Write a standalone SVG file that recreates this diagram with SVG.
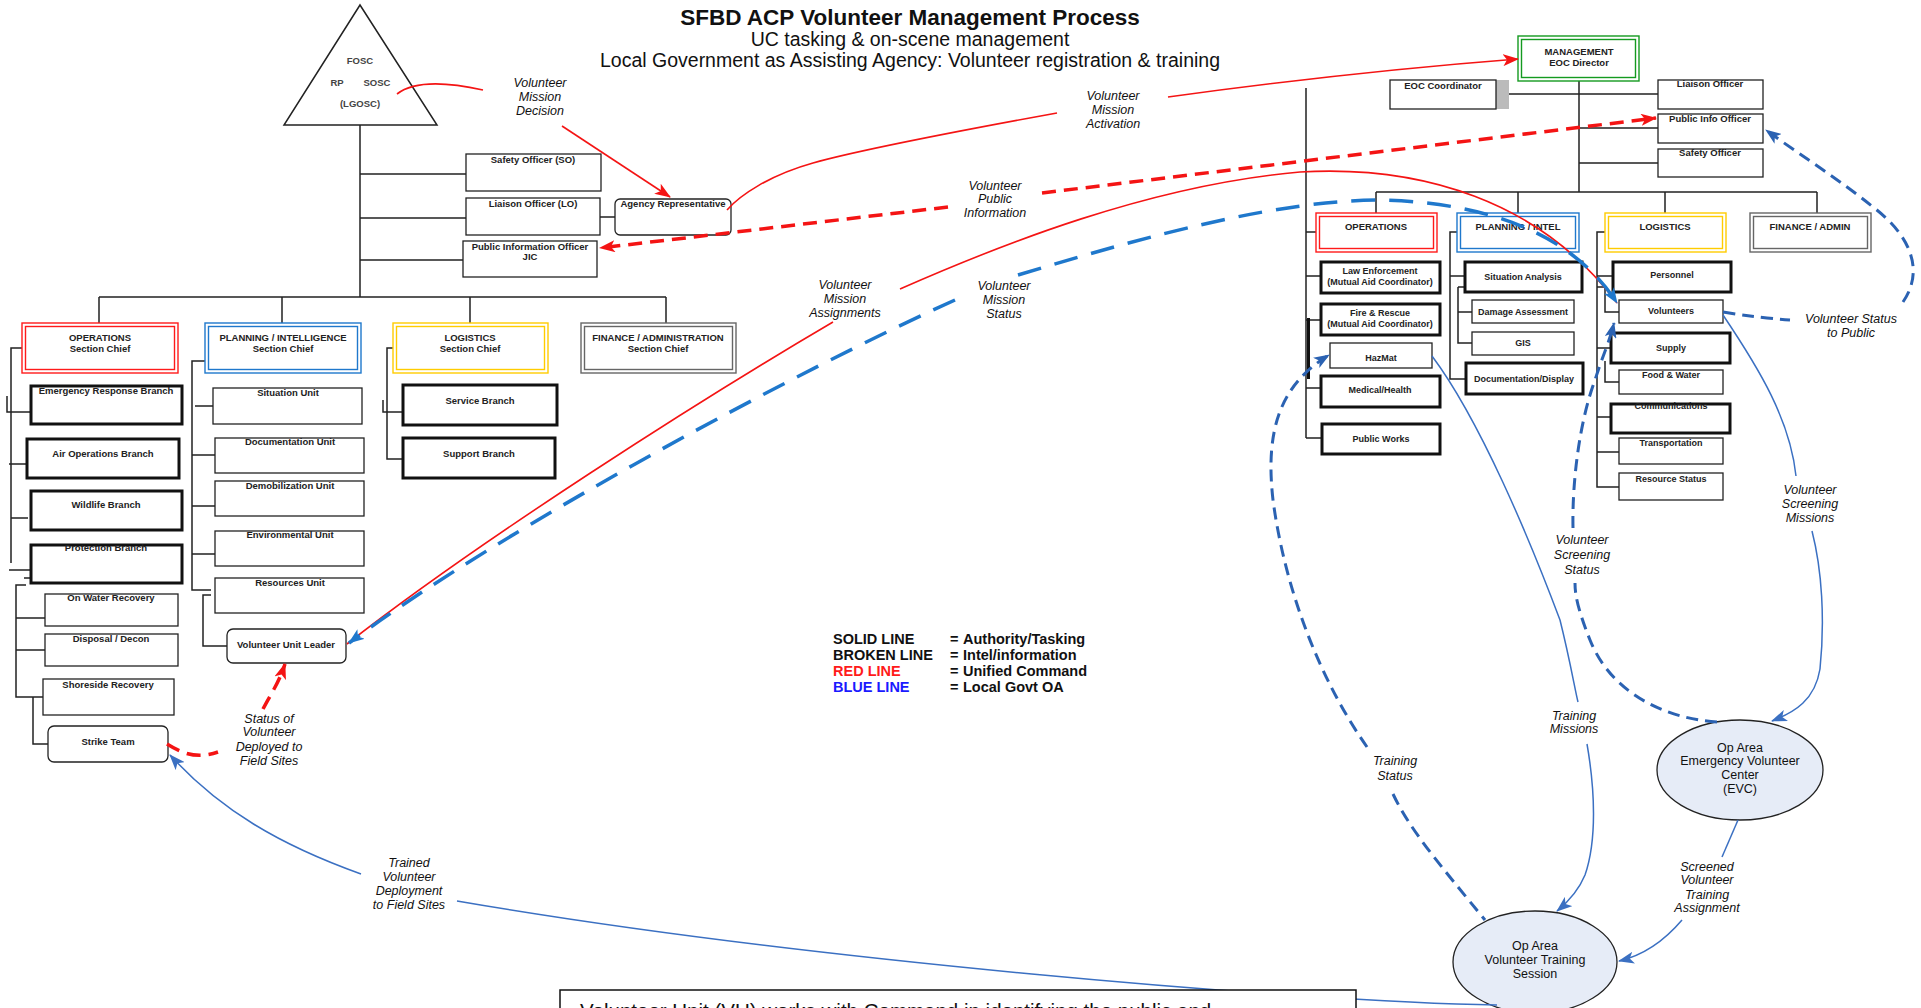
<svg xmlns="http://www.w3.org/2000/svg" width="1921" height="1008" viewBox="0 0 1921 1008">
<defs>
<style>
.t{font-family:"Liberation Sans",Arial,sans-serif;font-weight:bold;font-size:9.5px;fill:#222;text-anchor:middle}
.ts{font-family:"Liberation Sans",Arial,sans-serif;font-weight:bold;font-size:9px;fill:#222;text-anchor:middle}
.tri{font-family:"Liberation Sans",Arial,sans-serif;font-weight:bold;font-size:9.5px;fill:#444;text-anchor:middle}
.lbl{font-family:"Liberation Sans",Arial,sans-serif;font-style:italic;font-size:12.5px;fill:#111;text-anchor:middle}
.el{font-family:"Liberation Sans",Arial,sans-serif;font-size:12.5px;fill:#111;text-anchor:middle}
.leg{font-family:"Liberation Sans",Arial,sans-serif;font-weight:bold;font-size:14.5px;fill:#111}
.box{fill:#fff;stroke:#222;stroke-width:1.3}
.thick{fill:#fff;stroke:#111;stroke-width:3}
.dr{fill:#fff;stroke:#ff1a1a;stroke-width:1.4}
.db{fill:#fff;stroke:#1f78cc;stroke-width:1.4}
.dy{fill:#fff;stroke:#ffcc00;stroke-width:1.4}
.dg{fill:#fff;stroke:#666;stroke-width:1.4}
.dgr{fill:#fff;stroke:#149a20;stroke-width:1.4}
.in{fill:none}
.org{fill:none;stroke:#222;stroke-width:1.5}
.red{fill:none;stroke:#f41414;stroke-width:1.6}
.redd{fill:none;stroke:#f41414;stroke-width:3.5;stroke-dasharray:14 8}
.bd1{fill:none;stroke:#1f78cc;stroke-width:3.5;stroke-dasharray:24 14}
.bd2{fill:none;stroke:#2b62b2;stroke-width:3;stroke-dasharray:12 7}
.bs{fill:none;stroke:#3b70c2;stroke-width:1.5}
.ell{fill:#e6ecf7;stroke:#222;stroke-width:1.3}
</style>
<marker id="mR" viewBox="0 0 16 12" refX="15" refY="6" markerWidth="16" markerHeight="12" orient="auto-start-reverse" markerUnits="userSpaceOnUse"><path d="M0,0 L16,6 L0,12 L4,6 z" fill="#f41414"/></marker>
<marker id="mB1" viewBox="0 0 16 12" refX="15" refY="6" markerWidth="16" markerHeight="12" orient="auto-start-reverse" markerUnits="userSpaceOnUse"><path d="M0,0 L16,6 L0,12 L4,6 z" fill="#1f78cc"/></marker>
<marker id="mB2" viewBox="0 0 16 12" refX="15" refY="6" markerWidth="16" markerHeight="12" orient="auto-start-reverse" markerUnits="userSpaceOnUse"><path d="M0,0 L16,6 L0,12 L4,6 z" fill="#2b62b2"/></marker>
<marker id="mB3" viewBox="0 0 16 12" refX="15" refY="6" markerWidth="16" markerHeight="12" orient="auto-start-reverse" markerUnits="userSpaceOnUse"><path d="M0,0 L16,6 L0,12 L4,6 z" fill="#3b70c2"/></marker>
</defs>
<rect x="0" y="0" width="1921" height="1008" fill="#fff"/>

<g id="title">
<text x="910" y="25" style="font-family:'Liberation Sans',Arial,sans-serif;font-weight:bold;font-size:22.5px;fill:#111;text-anchor:middle">SFBD ACP Volunteer Management Process</text>
<text x="910" y="46" style="font-family:'Liberation Sans',Arial,sans-serif;font-size:19.5px;fill:#111;text-anchor:middle">UC tasking &amp; on-scene management</text>
<text x="910" y="67" style="font-family:'Liberation Sans',Arial,sans-serif;font-size:19.5px;fill:#111;text-anchor:middle">Local Government as Assisting Agency: Volunteer registration &amp; training</text>
</g>

<g id="org-lines">
<path class="org" d="M360,125 V297 M360,174 H466 M360,218 H466 M360,260 H463 M99,297 H666 M99,297 V323 M282,297 V323 M470,297 V323 M666,297 V323 M600,217 H615"/>
<path class="org" d="M22,348 H11 V563 M7,396 V412 H34 M9,464 H31 M11,518 H28 M9,570 H31 M24,578 H31 M26,585 H16 V697 H43 M16,618 H45 M16,650 H45 M33,697 V744 H48"/>
<path class="org" d="M211,361 H192 V590 H211 M195,406 H213 M192,455 H215 M192,506 H220 M192,554 H220 M211,595 H203 V646 H227"/>
<path class="org" d="M393,348 H387 V459 H403 M383,400 V412 H403"/>
<path class="org" d="M1579,81 V192 M1496,94 H1658 M1579,128 H1658 M1579,163 H1658 M1376,192 H1817 M1376,192 V213 M1518,192 V213 M1665,192 V213 M1817,192 V213"/>
<path class="org" d="M1306,88 V438 M1306,232 H1316 M1306,276 H1321 M1306,320 H1321 M1306,388 H1321 M1306,438 H1323"/>
<path fill="none" stroke="#111" stroke-width="3" d="M1308.5,318 V379"/>
<path class="org" d="M1457,232 H1450 V379 H1466 M1450,276 H1465 M1458,287 H1465 M1458,287 V343 H1472 M1458,312 H1472"/>
<path class="org" d="M1605,232 H1597 V487 H1619 M1597,276 H1613 M1597,287 H1605 V312 H1619 M1597,348 H1611 M1605,361 V382 H1619 M1597,417 H1611 M1597,452 H1619"/>
</g>

<g id="n-command-triangle">
<polygon points="360,5 284,125 437,125" fill="#fff" stroke="#222" stroke-width="1.5"/>
<text class="tri" x="360" y="64">FOSC</text>
<text class="tri" x="337" y="86">RP</text>
<text class="tri" x="377" y="86">SOSC</text>
<text class="tri" x="360" y="107">(LGOSC)</text>
</g>
<g id="n-safety-so"><rect class="box" x="466" y="154" width="135" height="37"/><text class="t" x="533" y="163">Safety Officer (SO)</text></g>
<g id="n-liaison-lo"><rect class="box" x="466" y="198" width="134" height="37"/><text class="t" x="533" y="207">Liaison Officer (LO)</text></g>
<g id="n-pio-jic"><rect class="box" x="463" y="241" width="134" height="36"/><text class="t" x="530" y="250">Public Information Officer</text><text class="t" x="530" y="260">JIC</text></g>
<g id="n-agency-rep"><rect class="box" x="615" y="199" width="116" height="36" rx="5"/><text class="t" x="673" y="207">Agency Representative</text></g>

<g id="n-ops-chief"><rect class="dr" x="22" y="323" width="156" height="50"/><rect class="dr in" x="25.5" y="326.5" width="149" height="43"/><text class="t" x="100" y="341">OPERATIONS</text><text class="t" x="100" y="352">Section Chief</text></g>
<g id="n-plan-chief"><rect class="db" x="205" y="323" width="156" height="50"/><rect class="db in" x="208.5" y="326.5" width="149" height="43"/><text class="t" x="283" y="341">PLANNING / INTELLIGENCE</text><text class="t" x="283" y="352">Section Chief</text></g>
<g id="n-log-chief"><rect class="dy" x="393" y="323" width="155" height="50"/><rect class="dy in" x="396.5" y="326.5" width="148" height="43"/><text class="t" x="470" y="341">LOGISTICS</text><text class="t" x="470" y="352">Section Chief</text></g>
<g id="n-fin-chief"><rect class="dg" x="581" y="323" width="155" height="50"/><rect class="dg in" x="584.5" y="326.5" width="148" height="43"/><text class="t" x="658" y="341">FINANCE / ADMINISTRATION</text><text class="t" x="658" y="352">Section Chief</text></g>

<g id="n-emergency-response"><rect class="thick" x="31" y="386" width="151" height="38"/><text class="t" x="106" y="394">Emergency Response Branch</text></g>
<g id="n-air-ops"><rect class="thick" x="27" y="439" width="152" height="39"/><text class="t" x="103" y="457">Air Operations Branch</text></g>
<g id="n-wildlife"><rect class="thick" x="31" y="491" width="151" height="39"/><text class="t" x="106" y="508">Wildlife Branch</text></g>
<g id="n-protection"><rect class="thick" x="31" y="545" width="151" height="38"/><text class="t" x="106" y="551">Protection Branch</text></g>
<g id="n-on-water"><rect class="box" x="45" y="594" width="133" height="32"/><text class="t" x="111" y="601">On  Water Recovery</text></g>
<g id="n-disposal"><rect class="box" x="45" y="634" width="133" height="32"/><text class="t" x="111" y="642">Disposal / Decon</text></g>
<g id="n-shoreside"><rect class="box" x="43" y="679" width="131" height="36"/><text class="t" x="108" y="688">Shoreside Recovery</text></g>
<g id="n-strike-team"><rect class="box" x="48" y="726" width="120" height="36" rx="6"/><text class="t" x="108" y="745">Strike Team</text></g>

<g id="n-situation-unit"><rect class="box" x="213" y="388" width="149" height="36"/><text class="t" x="288" y="396">Situation Unit</text></g>
<g id="n-documentation-unit"><rect class="box" x="215" y="438" width="149" height="35"/><text class="t" x="290" y="445">Documentation Unit</text></g>
<g id="n-demob-unit"><rect class="box" x="215" y="481" width="149" height="35"/><text class="t" x="290" y="489">Demobilization Unit</text></g>
<g id="n-environmental-unit"><rect class="box" x="215" y="531" width="149" height="35"/><text class="t" x="290" y="538">Environmental Unit</text></g>
<g id="n-resources-unit"><rect class="box" x="215" y="578" width="149" height="35"/><text class="t" x="290" y="586">Resources Unit</text></g>
<g id="n-volunteer-unit-leader"><rect class="box" x="227" y="629" width="119" height="34" rx="6"/><text class="t" x="286" y="648">Volunteer Unit Leader</text></g>

<g id="n-service-branch"><rect class="thick" x="403" y="385" width="154" height="40"/><text class="t" x="480" y="404">Service Branch</text></g>
<g id="n-support-branch"><rect class="thick" x="403" y="438" width="152" height="40"/><text class="t" x="479" y="457">Support Branch</text></g>

<g id="n-eoc-director"><rect class="dgr" x="1518" y="36" width="121" height="45"/><rect class="dgr in" x="1521.5" y="39.5" width="114" height="38"/><text class="t" x="1579" y="55">MANAGEMENT</text><text class="t" x="1579" y="66">EOC Director</text></g>
<g id="n-eoc-coordinator"><rect x="1496" y="80" width="13" height="29" fill="#bbb"/><rect class="box" x="1390" y="80" width="106" height="29"/><text class="t" x="1443" y="89">EOC Coordinator</text></g>
<g id="n-eoc-liaison"><rect class="box" x="1658" y="80" width="105" height="29"/><text class="t" x="1710" y="87">Liaison Officer</text></g>
<g id="n-eoc-pio"><rect class="box" x="1658" y="114" width="105" height="29"/><text class="t" x="1710" y="122">Public Info Officer</text></g>
<g id="n-eoc-safety"><rect class="box" x="1658" y="149" width="105" height="28"/><text class="t" x="1710" y="156">Safety Officer</text></g>

<g id="n-eoc-operations"><rect class="dr" x="1316" y="213" width="121" height="39"/><rect class="dr in" x="1319.5" y="216.5" width="114" height="32"/><text class="t" x="1376" y="230">OPERATIONS</text></g>
<g id="n-eoc-planning"><rect class="db" x="1457" y="213" width="122" height="39"/><rect class="db in" x="1460.5" y="216.5" width="115" height="32"/><text class="t" x="1518" y="230">PLANNING / INTEL</text></g>
<g id="n-eoc-logistics"><rect class="dy" x="1605" y="213" width="121" height="39"/><rect class="dy in" x="1608.5" y="216.5" width="114" height="32"/><text class="t" x="1665" y="230">LOGISTICS</text></g>
<g id="n-eoc-finance"><rect class="dg" x="1750" y="213" width="121" height="39"/><rect class="dg in" x="1753.5" y="216.5" width="114" height="32"/><text class="t" x="1810" y="230">FINANCE / ADMIN</text></g>

<g id="n-law-enforcement"><rect class="thick" x="1321" y="262" width="119" height="31"/><text class="ts" x="1380" y="274">Law Enforcement</text><text class="ts" x="1380" y="285">(Mutual Aid Coordinator)</text></g>
<g id="n-fire-rescue"><rect class="thick" x="1321" y="304" width="119" height="31"/><text class="ts" x="1380" y="316">Fire &amp; Rescue</text><text class="ts" x="1380" y="327">(Mutual Aid Coordinator)</text></g>
<g id="n-hazmat"><rect class="box" x="1330" y="343" width="102" height="25"/><text class="ts" x="1381" y="361">HazMat</text></g>
<g id="n-medical-health"><rect class="thick" x="1321" y="376" width="119" height="31"/><text class="ts" x="1380" y="393">Medical/Health</text></g>
<g id="n-public-works"><rect class="thick" x="1322" y="424" width="118" height="30"/><text class="ts" x="1381" y="442">Public Works</text></g>

<g id="n-situation-analysis"><rect class="thick" x="1465" y="262" width="117" height="30"/><text class="ts" x="1523" y="280">Situation Analysis</text></g>
<g id="n-damage-assessment"><rect class="box" x="1472" y="300" width="102" height="23"/><text class="ts" x="1523" y="315">Damage Assessment</text></g>
<g id="n-gis"><rect class="box" x="1472" y="332" width="102" height="23"/><text class="ts" x="1523" y="346">GIS</text></g>
<g id="n-documentation-display"><rect class="thick" x="1466" y="363" width="117" height="31"/><text class="ts" x="1524" y="382">Documentation/Display</text></g>

<g id="n-personnel"><rect class="thick" x="1613" y="262" width="118" height="30"/><text class="ts" x="1672" y="278">Personnel</text></g>
<g id="n-volunteers"><rect class="box" x="1619" y="300" width="104" height="23"/><text class="ts" x="1671" y="314">Volunteers</text></g>
<g id="n-supply"><rect class="thick" x="1611" y="333" width="119" height="30"/><text class="ts" x="1671" y="351">Supply</text></g>
<g id="n-food-water"><rect class="box" x="1619" y="370" width="104" height="24"/><text class="ts" x="1671" y="378">Food &amp; Water</text></g>
<g id="n-communications"><rect class="thick" x="1611" y="404" width="119" height="29"/><text class="ts" x="1671" y="409">Communications</text></g>
<g id="n-transportation"><rect class="box" x="1619" y="438" width="104" height="26"/><text class="ts" x="1671" y="446">Transportation</text></g>
<g id="n-resource-status"><rect class="box" x="1619" y="473" width="104" height="27"/><text class="ts" x="1671" y="482">Resource Status</text></g>

<g id="n-evc"><ellipse class="ell" cx="1740" cy="770" rx="83" ry="50"/><text class="el" x="1740" y="752">Op Area</text><text class="el" x="1740" y="765">Emergency Volunteer</text><text class="el" x="1740" y="779">Center</text><text class="el" x="1740" y="793">(EVC)</text></g>
<g id="n-training-session"><ellipse class="ell" cx="1535" cy="962" rx="82" ry="51"/><text class="el" x="1535" y="950">Op Area</text><text class="el" x="1535" y="964">Volunteer Training</text><text class="el" x="1535" y="978">Session</text></g>

<g id="legend">
<text class="leg" x="833" y="644">SOLID LINE</text>
<text class="leg" x="833" y="660">BROKEN LINE</text>
<text class="leg" x="833" y="676" style="fill:#ff1a1a">RED LINE</text>
<text class="leg" x="833" y="692" style="fill:#1a1aff">BLUE LINE</text>
<text class="leg" x="950" y="644">=</text><text class="leg" x="950" y="660">=</text><text class="leg" x="950" y="676">=</text><text class="leg" x="950" y="692">=</text>
<text class="leg" x="963" y="644">Authority/Tasking</text>
<text class="leg" x="963" y="660">Intel/information</text>
<text class="leg" x="963" y="676">Unified Command</text>
<text class="leg" x="963" y="692">Local Govt OA</text>
</g>

<g id="connectors">
<path class="red" d="M397,94 Q420,76 483,90"/>
<path class="red" d="M562,126 L670,197" marker-end="url(#mR)"/>
<path class="red" d="M727,210 C740,195 770,175 813,163 S920,138 1057,113"/>
<path class="red" d="M1168,97 Q1350,72 1518,59" marker-end="url(#mR)"/>
<path class="redd" d="M1042,193 L1656,118" marker-end="url(#mR)"/>
<path class="redd" d="M948,207 L600,248" marker-end="url(#mR)"/>
<path class="red" d="M900,289 C1000,245 1150,185 1300,172 C1420,165 1540,200 1617,303"/>
<path class="red" d="M833,322 C700,400 480,540 347,644"/>
<path class="bd1" d="M955,300 C800,370 500,530 349,643" marker-end="url(#mB1)"/>
<path class="bd1" d="M1018,275 C1150,235 1280,200 1380,200 C1480,202 1570,230 1617,303" marker-end="url(#mB1)"/>
<path class="bd2" d="M1723,312 Q1760,318 1790,320"/>
<path class="bd2" d="M1903,302 C1925,270 1910,235 1873,207 C1840,180 1800,155 1766,130" marker-end="url(#mB2)"/>
<path class="bs" d="M1723,315 C1760,370 1790,420 1796,476"/>
<path class="bs" d="M1812,531 C1822,570 1825,620 1820,669 C1815,700 1795,712 1772,721" marker-end="url(#mB3)"/>
<path class="bd2" d="M1717,722 C1660,718 1610,690 1590,640 C1578,610 1575,595 1575,583"/>
<path class="bd2" d="M1573,528 C1572,480 1580,420 1595,380 C1603,355 1610,340 1614,323" marker-end="url(#mB2)"/>
<path class="bs" d="M1432,356 C1480,420 1530,540 1560,620 C1570,660 1575,690 1578,702"/>
<path class="bs" d="M1587,744 C1595,790 1597,840 1585,875 C1578,892 1568,902 1557,911" marker-end="url(#mB3)"/>
<path class="bd2" d="M1367,747 C1320,680 1285,590 1273,500 C1265,430 1280,385 1329,355" marker-end="url(#mB2)"/>
<path class="bd2" d="M1393,794 C1410,830 1440,865 1485,920"/>
<path class="bs" d="M1738,820 L1722,857"/>
<path class="bs" d="M1682,920 C1665,940 1645,955 1619,961" marker-end="url(#mB3)"/>
<path class="bs" d="M1497,1005 C1300,1002 800,960 457,901"/>
<path class="bs" d="M361,874 C280,845 220,810 170,755" marker-end="url(#mB3)"/>
<path class="redd" d="M167,744 C180,752 195,760 218,752"/>
<path class="redd" d="M263,709 C270,695 278,685 285,664" marker-end="url(#mR)"/>
<g id="connector-labels">
<text class="lbl" x="540" y="87">Volunteer</text><text class="lbl" x="540" y="101">Mission</text><text class="lbl" x="540" y="115">Decision</text>
<text class="lbl" x="1113" y="100">Volunteer</text><text class="lbl" x="1113" y="114">Mission</text><text class="lbl" x="1113" y="128">Activation</text>
<text class="lbl" x="995" y="190">Volunteer</text><text class="lbl" x="995" y="203">Public</text><text class="lbl" x="995" y="217">Information</text>
<text class="lbl" x="1004" y="290">Volunteer</text><text class="lbl" x="1004" y="304">Mission</text><text class="lbl" x="1004" y="318">Status</text>
<text class="lbl" x="845" y="289">Volunteer</text><text class="lbl" x="845" y="303">Mission</text><text class="lbl" x="845" y="317">Assignments</text>
<text class="lbl" x="1851" y="323">Volunteer Status</text><text class="lbl" x="1851" y="337">to Public</text>
<text class="lbl" x="1810" y="494">Volunteer</text><text class="lbl" x="1810" y="508">Screening</text><text class="lbl" x="1810" y="522">Missions</text>
<text class="lbl" x="1582" y="544">Volunteer</text><text class="lbl" x="1582" y="559">Screening</text><text class="lbl" x="1582" y="574">Status</text>
<text class="lbl" x="1574" y="720">Training</text><text class="lbl" x="1574" y="733">Missions</text>
<text class="lbl" x="1395" y="765">Training</text><text class="lbl" x="1395" y="780">Status</text>
<text class="lbl" x="1707" y="871">Screened</text><text class="lbl" x="1707" y="884">Volunteer</text><text class="lbl" x="1707" y="899">Training</text><text class="lbl" x="1707" y="912">Assignment</text>
<text class="lbl" x="409" y="867">Trained</text><text class="lbl" x="409" y="881">Volunteer</text><text class="lbl" x="409" y="895">Deployment</text><text class="lbl" x="409" y="909">to Field Sites</text>
<text class="lbl" x="269" y="723">Status of</text><text class="lbl" x="269" y="736">Volunteer</text><text class="lbl" x="269" y="751">Deployed to</text><text class="lbl" x="269" y="765">Field Sites</text>
</g>
</g>

<g id="n-note">
<rect x="560" y="990" width="796" height="40" fill="#fff" stroke="#111" stroke-width="1.5"/>
<text x="580" y="1018" style="font-family:'Liberation Sans',Arial,sans-serif;font-size:20.5px;fill:#111">Volunteer Unit (VU) works with Command in identifying the public and</text>
</g>
</svg>
